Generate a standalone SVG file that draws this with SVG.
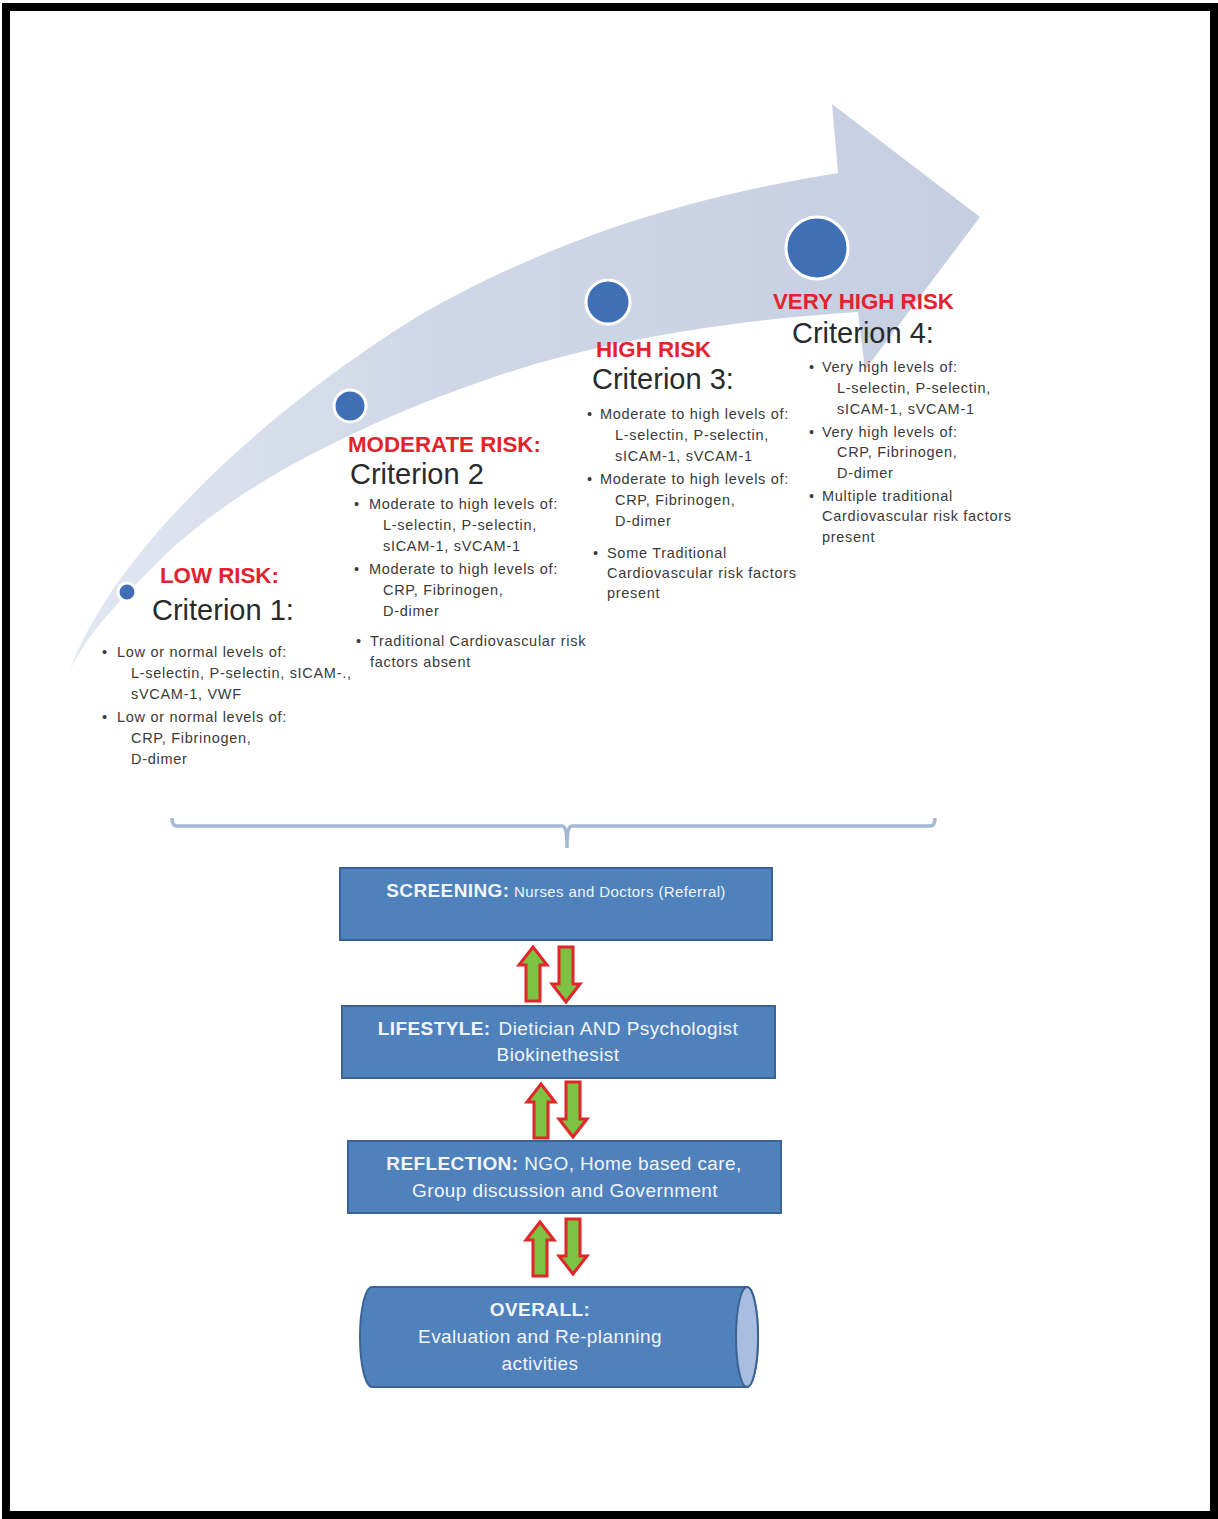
<svg xmlns="http://www.w3.org/2000/svg" width="1218" height="1519" viewBox="0 0 1218 1519">
<style>
text{font-family:"Liberation Sans",Arial,sans-serif}
.risk{font-weight:bold;fill:#e3232c;font-size:22.3px}
.crit{font-size:29px;fill:#2a2a2a}
.b{font-size:14.5px;fill:#3a3a3a;letter-spacing:0.7px}
.box{fill:#4f81bd;stroke:#3b6394;stroke-width:2}
.bt{fill:#f2f5fa;font-size:19px;text-anchor:middle;letter-spacing:0.4px}
.bold{font-weight:bold}
.arr{fill:#7dc242;stroke:#e1262b;stroke-width:3}
.dot{fill:#3f6fb5;stroke:#ffffff;stroke-width:3}
</style>
<defs>
<linearGradient id="sw" x1="0" y1="0" x2="1" y2="0">
<stop offset="0" stop-color="#e2e7f0"/>
<stop offset="0.4" stop-color="#cfd7e7"/>
<stop offset="1" stop-color="#c6cfe2"/>
</linearGradient>
<path id="up" d="M0,0 L14,18 L7,18 L7,54 L-7,54 L-7,18 L-14,18 Z"/>
<path id="down" d="M0,0 L-14,-18 L-7,-18 L-7,-55 L7,-55 L7,-18 L14,-18 Z"/>
</defs>
<rect x="0" y="0" width="1218" height="1519" fill="#ffffff"/>
<rect x="6" y="7" width="1208" height="1508" fill="none" stroke="#000000" stroke-width="8"/>

<g id="swoosh">
<path d="M70,670 C110,560 250,420 420,315 C560,235 700,195 838,173 L832,104 L980,217 L865,370 L858,312 C760,318 620,335 500,375 C380,415 240,480 160,560 C120,600 90,630 70,670 Z" fill="url(#sw)"/>
</g>

<g id="low-risk">
<circle class="dot" cx="127" cy="592" r="9"/>
<text class="risk" x="160" y="583">LOW RISK:</text>
<text class="crit" x="152" y="620">Criterion 1:</text>
<text class="b" x="102" y="657">•</text><text class="b" x="117" y="657">Low or normal levels of:</text>
<text class="b" x="131" y="678">L-selectin, P-selectin, sICAM-.,</text>
<text class="b" x="131" y="699">sVCAM-1, VWF</text>
<text class="b" x="102" y="722">•</text><text class="b" x="117" y="722">Low or normal levels of:</text>
<text class="b" x="131" y="743">CRP, Fibrinogen,</text>
<text class="b" x="131" y="764">D-dimer</text>
</g>

<g id="moderate-risk">
<circle class="dot" cx="350" cy="406" r="16"/>
<text class="risk" x="348" y="452">MODERATE RISK:</text>
<text class="crit" x="350" y="484">Criterion 2</text>
<text class="b" x="354" y="509">•</text><text class="b" x="369" y="509">Moderate to high levels of:</text>
<text class="b" x="383" y="530">L-selectin, P-selectin,</text>
<text class="b" x="383" y="551">sICAM-1, sVCAM-1</text>
<text class="b" x="354" y="574">•</text><text class="b" x="369" y="574">Moderate to high levels of:</text>
<text class="b" x="383" y="595">CRP, Fibrinogen,</text>
<text class="b" x="383" y="616">D-dimer</text>
<text class="b" x="356" y="646">•</text><text class="b" x="370" y="646">Traditional Cardiovascular risk</text>
<text class="b" x="370" y="667">factors absent</text>
</g>

<g id="high-risk">
<circle class="dot" cx="608" cy="302" r="22"/>
<text class="risk" x="596" y="357">HIGH RISK</text>
<text class="crit" x="592" y="389">Criterion 3:</text>
<text class="b" x="587" y="419">•</text><text class="b" x="600" y="419">Moderate to high levels of:</text>
<text class="b" x="615" y="440">L-selectin, P-selectin,</text>
<text class="b" x="615" y="461">sICAM-1, sVCAM-1</text>
<text class="b" x="587" y="484">•</text><text class="b" x="600" y="484">Moderate to high levels of:</text>
<text class="b" x="615" y="505">CRP, Fibrinogen,</text>
<text class="b" x="615" y="526">D-dimer</text>
<text class="b" x="593" y="558">•</text><text class="b" x="607" y="558">Some Traditional</text>
<text class="b" x="607" y="578">Cardiovascular risk factors</text>
<text class="b" x="607" y="598">present</text>
</g>

<g id="very-high-risk">
<circle class="dot" cx="817" cy="248" r="31"/>
<text class="risk" x="773" y="309">VERY HIGH RISK</text>
<text class="crit" x="792" y="343">Criterion 4:</text>
<text class="b" x="809" y="372">•</text><text class="b" x="822" y="372">Very high levels of:</text>
<text class="b" x="837" y="393">L-selectin, P-selectin,</text>
<text class="b" x="837" y="414">sICAM-1, sVCAM-1</text>
<text class="b" x="809" y="437">•</text><text class="b" x="822" y="437">Very high levels of:</text>
<text class="b" x="837" y="457">CRP, Fibrinogen,</text>
<text class="b" x="837" y="478">D-dimer</text>
<text class="b" x="809" y="501">•</text><text class="b" x="822" y="501">Multiple traditional</text>
<text class="b" x="822" y="521">Cardiovascular risk factors</text>
<text class="b" x="822" y="542">present</text>
</g>

<g id="screening">
<rect class="box" x="340" y="868" width="432" height="72"/>
<text class="bt" x="556" y="897"><tspan class="bold" font-size="19">SCREENING:</tspan><tspan font-size="15"> Nurses and Doctors (Referral)</tspan></text>
</g>

<g id="lifestyle">
<rect class="box" x="342" y="1006" width="433" height="72"/>
<text class="bt" x="558" y="1035"><tspan class="bold">LIFESTYLE:</tspan><tspan dx="8">Dietician AND Psychologist</tspan></text>
<text class="bt" x="558" y="1061">Biokinethesist</text>
</g>

<g id="reflection">
<rect class="box" x="348" y="1141" width="433" height="72"/>
<text class="bt" x="564" y="1170" font-size="19.5"><tspan class="bold">REFLECTION:</tspan> NGO, Home based care,</text>
<text class="bt" x="565" y="1197" font-size="19.5">Group discussion and Government</text>
</g>

<g id="overall">
<path class="box" d="M372,1287 L747,1287 A11,50 0 0 1 747,1387 L372,1387 A12,50 0 0 1 372,1287 Z"/>
<ellipse cx="747" cy="1337" rx="11" ry="50" fill="#a8bde0" stroke="#3b6394" stroke-width="2"/>
<text class="bt bold" x="540" y="1316">OVERALL:</text>
<text class="bt" x="540" y="1343">Evaluation and Re-planning</text>
<text class="bt" x="540" y="1370">activities</text>
</g>

<g id="connectors">
<path d="M172,818 C172,823 173,826 177,826 L562,826 C566,826 567,834 567,848 C567,834 568,826 572,826 L930,826 C934,826 935,823 935,818" fill="none" stroke="#a3b8d6" stroke-width="3.5"/>
<use href="#up" class="arr" x="533" y="947"/>
<use href="#down" class="arr" x="566" y="1002"/>
<use href="#up" class="arr" x="541" y="1084"/>
<use href="#down" class="arr" x="573" y="1137"/>
<use href="#up" class="arr" x="540" y="1222"/>
<use href="#down" class="arr" x="573" y="1274"/>
</g>
</svg>
